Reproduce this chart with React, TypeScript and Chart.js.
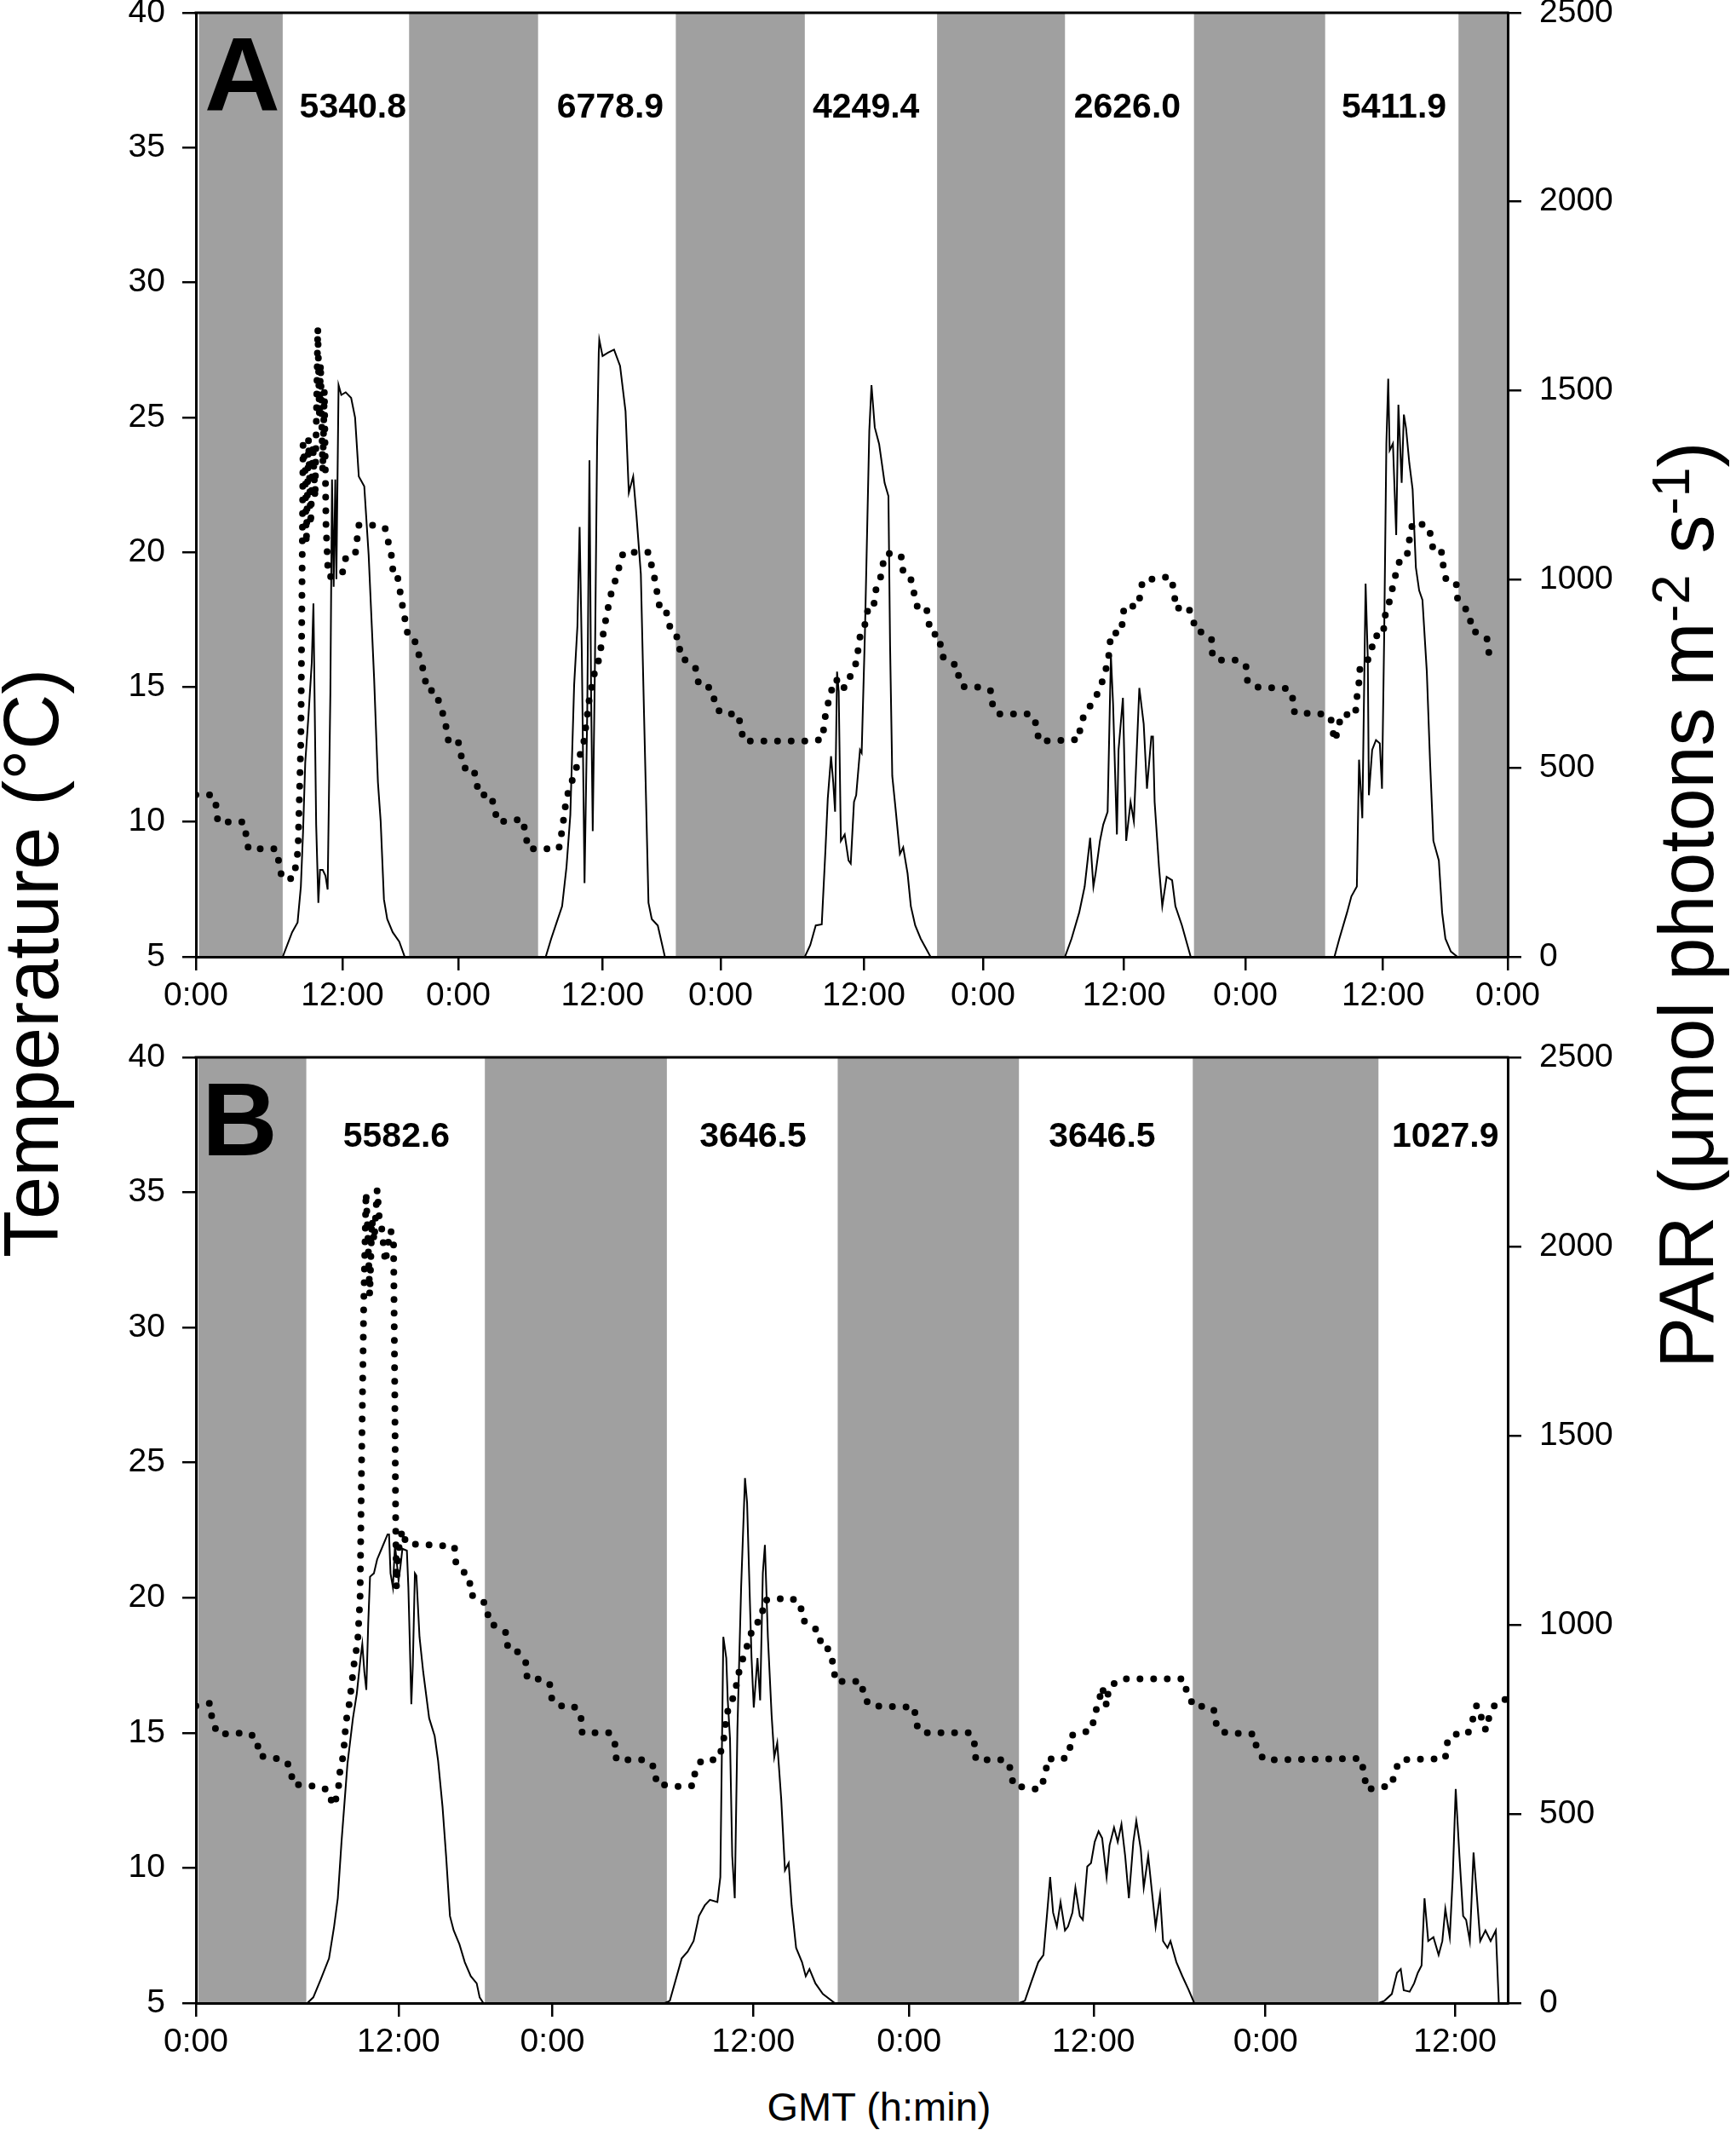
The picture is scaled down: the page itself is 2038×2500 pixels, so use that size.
import { useEffect, useRef } from "react"
import { Chart, registerables } from "chart.js"

Chart.register(...registerables)

const FONT = "'Liberation Sans', Arial, Helvetica, sans-serif"

// ---------- Panel A (5 days) ----------
const tempHoursA = [
  0, 1.5, 1.85, 2, 4.35, 4.6, 4.8, 7.3, 7.6, 7.87, 8.9, 9.2, 9.34,
  9.6, 9.8, 10, 10.1, 10.3, 10.5, 10.7, 10.9, 11.15, 11.3, 11.4, 11.6, 11.75, 11.9, 12.1,
  12.9, 13.5, 13.75, 14.6, 14.9, 16.3, 17.3, 17.9, 18.05, 18.4, 18.9, 19.4, 19.96, 20.5,
  20.9, 21.1, 21.9, 22.6, 22.85, 23.1, 23.96, 24.5, 25.4, 25.9, 27, 27.6, 29.9, 30.4,
  33.2, 33.5, 33.9, 34.8, 35.5, 36, 36.5, 36.85, 37.4, 37.9, 38.4, 39.1, 41.4, 42, 42.4,
  42.9, 43.5, 44.2, 44.3, 45, 45.7, 46, 46.6, 47.3, 47.5, 48.2, 49.6, 50.1, 55.8, 57.3,
  57.6, 57.95, 58.3, 58.6, 58.8, 59.5, 59.9, 60.4, 60.8, 61.3, 61.5, 62, 62.2, 62.65, 63,
  63.9, 64.6, 64.7, 65.4, 65.96, 66.8, 67.2, 68.05, 68.15, 68.9, 69.7, 69.8, 70.3, 71.9,
  72.75, 72.9, 73.4, 76.4, 76.9, 77.1, 80.8, 80.9, 81.3, 82.3, 83, 83.4, 83.55, 83.7, 84.6,
  84.8, 84.9, 86.2, 86.6, 89.1, 89.5, 89.6, 90.7, 91.2, 91.4, 92.3, 92.9, 93, 93.7, 95.3,
  96.05, 96.2, 96.9, 99.9, 100.3, 100.5, 103, 103.8, 104, 104.2, 104.5, 104.8, 106.05,
  106.2, 106.4, 106.5, 107.2, 107.5, 107.8, 108.6, 108.75, 109.2, 109.7, 110.2, 110.8, 111,
  111.3, 112.6, 113, 113.2, 114, 114.1, 114.4, 115.3, 115.4, 115.9, 116.5, 116.7, 117.3,
  118.1, 118.3, 119.2,
]
const tempValuesA = [
  11, 11, 10.6, 10, 10, 9.5, 9, 9, 8.5, 7.9, 7.9, 8.5, 9,
  13, 24, 23, 20.3, 24.2, 21, 24, 22, 28.3, 25, 27, 23, 26, 21, 19.1,
  19.1, 19.3, 19.9, 20, 21, 21, 20.9, 19.85, 19.2, 19.2, 18, 16.9, 16.8, 16.05,
  15.5, 14.9, 14.85, 14, 13.6, 13, 13.05, 12, 12, 11, 11, 10, 10.1, 9,
  9, 9.7, 10.9, 12, 13, 14.6, 15.6, 16, 17.3, 18.35, 19, 20, 20, 18.95, 18,
  18, 17, 16.8, 16.1, 15.95, 15.7, 15.1, 15.1, 14.85, 14.25, 14, 14, 13, 13, 13.05,
  14, 14.6, 15.1, 15.3, 14.95, 15, 15.45, 15.9, 17, 17.4, 18, 18, 18.6, 19.1, 19.9,
  20, 19.8, 19.2, 19, 18, 18, 17, 16.9, 16.2, 15.9, 15.8, 15.2, 15, 15,
  14.85, 14.25, 14, 14, 13.6, 13, 13.05, 13.6, 14, 14.6, 15.3, 15.9, 16.3, 17, 17,
  17.5, 18, 18, 18.95, 19.1, 18.6, 17.9, 18, 17.6, 17.1, 17, 16.8, 16.1, 16, 16,
  15.8, 15.2, 15, 14.95, 14.65, 14.05, 14, 13.9, 13.35, 13, 13.5, 14, 13.95,
  14.6, 15.2, 15.8, 16, 16.3, 16.9, 16.9, 17.6, 18.2, 19.1, 19.8, 19.9, 20.45,
  21.1, 21, 20.6, 20, 20, 19.5, 18.9, 18.8, 18.3, 18, 17.75, 17.1, 17,
  16.8, 16.2, 16,
]
const parHoursA = [
  0, 7.94, 8.8, 9.3, 9.6, 9.8, 10, 10.3, 10.6, 10.75, 10.85, 11, 11.2, 11.35, 11.6, 11.85,
  12.05, 12.3, 12.45, 12.6, 12.75, 12.85, 13.05, 13.3, 13.7, 14.2, 14.56, 14.9, 15.4, 15.8,
  16.3, 16.65, 16.9, 17.2, 17.5, 18, 18.6, 19.1,
  32, 32.5, 33, 33.5, 33.9, 34.25, 34.6, 34.9, 35.1, 35.3, 35.55, 35.8, 36, 36.15, 36.3,
  36.5, 36.7, 36.85, 36.9, 37.2, 37.7, 38.25, 38.8, 39.3, 39.6, 40, 40.3, 40.7, 41, 41.4,
  41.7, 42.25, 42.9,
  55.7, 56.2, 56.7, 57.25, 57.6, 57.8, 58.1, 58.3, 58.47, 58.65, 58.8, 59, 59.35, 59.7,
  59.9, 60.2, 60.4, 60.75, 60.9, 61.2, 61.6, 61.8, 62.1, 62.5, 63, 63.35, 63.5, 63.7, 64,
  64.4, 64.7, 65.1, 65.4, 65.8, 66.3, 67.2,
  79.5, 80.1, 80.8, 81.3, 81.8, 82.1, 82.3, 82.7, 83, 83.4, 83.7, 83.9, 84.25, 84.4, 84.8,
  85.1, 85.5, 85.8, 86.3, 86.7, 87, 87.4, 87.55, 87.7, 88.1, 88.4, 88.8, 89.3, 89.6, 90.2,
  90.7, 91,
  104.15, 104.6, 105.3, 105.7, 106.2, 106.4, 106.7, 107, 107.2, 107.3, 107.6, 107.95, 108.3,
  108.5, 108.7, 108.9, 109.07, 109.2, 109.5, 109.8, 110, 110.3, 110.5, 110.7, 111, 111.3,
  111.6, 111.9, 112.2, 112.6, 112.9, 113.2, 113.7, 114, 114.3, 114.8, 115.4, 120,
]
const parValuesA = [
  0, 0, 65, 91, 186, 330, 514, 640, 780, 936, 700, 350, 143, 230, 230, 215,
  178, 700, 1264, 980, 1264, 1000, 1514, 1488, 1495, 1480, 1428, 1272, 1246, 1065,
  738, 462, 359, 152, 100, 65, 40, 0,
  0, 48, 91, 134, 238, 376, 720, 876, 1138, 807, 195, 652, 1315, 695, 333,
  772, 1358, 1600, 1634, 1591, 1600, 1608, 1565, 1445, 1229, 1272, 1169, 1014, 634, 143,
  100, 83, 0,
  0, 31, 83, 86, 290, 419, 531, 462, 384, 755, 703, 307, 324, 255,
  247, 410, 428, 548, 540, 858, 1393, 1514, 1402, 1358, 1255, 1220, 824, 479, 393,
  272, 290, 221, 134, 83, 48, 0,
  0, 48, 117, 186, 315, 186, 221, 307, 350, 384, 798, 669, 324, 548, 686,
  307, 410, 359, 712, 617, 445, 583, 583, 410, 238, 134, 212, 203, 134, 83,
  31, 0,
  0, 48, 117, 160, 186, 522, 367, 988, 790, 428, 548, 574, 565,
  445, 850, 1359, 1531, 1341, 1359, 1117, 1462, 1255, 1436, 1400, 1307, 1238,
  1031, 970, 945, 755, 514, 307, 255, 117, 48, 14, 0, 0,
]
const nightStartsA = [0.28, 19.5, 43.9, 67.8, 91.3, 115.5]
const nightEndsA = [7.94, 31.3, 55.7, 79.5, 103.3, 120]
const xTicksA = [0, 13.4, 24, 37.2, 48, 61.1, 72, 84.9, 96, 108.6, 120]
const xTickLabelsA = ["0:00", "12:00", "0:00", "12:00", "0:00", "12:00", "0:00", "12:00", "0:00", "12:00", "0:00"]
const totalHoursA = [14.36, 37.9, 61.3, 85.2, 109.6]
const totalLabelsA = ["5340.8", "6778.9", "4249.4", "2626.0", "5411.9"]

// ---------- Panel B (3.7 days) ----------
const tempHoursB = [
  0, 0.97, 1.1, 1.5, 3.53, 4.1, 4.25, 5.96, 6.4, 6.5, 8.4, 8.96, 9.2, 9.4, 9.6, 9.7, 9.93,
  10.1, 10.3, 10.44, 10.57, 10.7, 10.88,
  11.05, 11.15, 11.3, 11.45, 11.6, 11.7, 11.85, 12, 12.2, 12.35, 12.5, 12.75, 12.9, 13.1,
  13.3, 13.38, 13.45, 13.5, 13.6, 13.77, 13.9, 14.15,
  17.4, 17.5, 17.9, 18.4, 18.5, 19.1, 19.6, 19.7, 20.3, 20.9, 21, 21.65, 22.2, 22.3, 23,
  23.8, 23.96, 24.4, 25.4, 25.9, 26, 27.85, 28.2, 28.3, 30.3, 30.9, 31, 32.8, 33.5, 33.6,
  34.05, 35.1, 35.4, 35.6, 35.7, 36, 36.45, 36.6, 36.95, 37.55, 38.1, 38.2, 40, 40.7, 40.8,
  41.3, 41.95, 42.1, 42.6, 42.9, 43.05, 44.8, 44.97, 45.4, 48.35, 48.5, 48.9, 52.1, 52.4,
  52.5, 54.5, 54.9, 55, 56.8, 57.2, 57.3, 58.3, 58.8, 58.9, 59.6, 60.3, 60.5, 60.76, 61,
  61.3, 61.45, 62.3, 66.5, 66.7, 67.2, 68.05, 68.6, 68.7, 69.3, 71.25, 71.4, 71.9, 78.4,
  78.6, 78.8, 80.5, 80.7, 81.1, 84.1, 84.2, 84.6, 85.6, 85.9, 86.2, 86.45, 86.6, 86.9, 87,
  87.4, 88.1, 88.2,
]
const tempValuesB = [
  16, 16.1, 15.4, 14.95, 15, 14.8, 14.15, 14, 13.7, 13.1, 13, 12.85, 12.3, 12.5, 13, 13.6, 14.2,
  15.4, 16, 16.6, 17.2, 17.8, 18.3,
  20, 25, 31, 35, 33, 31.2, 34, 33.2, 35.1, 34, 33.7, 32.4, 33, 33.6,
  33.3, 28, 22.5, 20.4, 21.6, 22.2, 22.5, 22,
  21.9, 21.3, 21, 20.8, 20.1, 20, 19.7, 19.1, 18.9, 18.7, 18.1, 18, 17.6, 17, 17,
  16.85, 16.25, 16, 16, 15.7, 15, 15, 14.6, 14, 14, 13.7, 13.1, 13, 13.05, 13.6,
  14, 14, 14.4, 15, 15.7, 16, 16.9, 17.4, 17.95, 19, 19.2, 19.9, 20, 19.8, 19.2,
  19, 18.75, 18.15, 18.1, 17.55, 16.9, 16.9, 16.3, 16, 15.95, 15.3, 15, 15, 14.6,
  14, 14, 13.6, 13.05, 12.9, 13.45, 14.05, 14, 14.2, 14.9, 15, 15.1, 15.7, 16.1, 16.7,
  16, 16.7, 17, 17, 16.5, 15.95, 16, 15.8, 15.2, 15, 14.95, 14.4, 14, 14.05,
  13.6, 12.9, 13.05, 13.6, 14, 14.05, 14.6, 14.95, 14.95, 15.4, 16, 15.9, 15.2, 15.1, 15.5,
  16, 16.15, 16.7,
]
const parHoursB = [
  0, 7.5, 7.9, 8.4, 8.96, 9.3, 9.55, 9.8, 10.2, 10.57, 10.83, 11.08, 11.2, 11.34, 11.47,
  11.6, 11.72, 11.98, 12.2, 12.5, 12.9, 13, 13.1, 13.26, 13.4, 13.5, 13.64, 13.77, 13.9,
  14.2, 14.3, 14.4, 14.5, 14.6, 14.74, 14.84, 15.05, 15.3, 15.7, 16.07, 16.3, 16.6, 16.84,
  17.1, 17.35, 17.74, 18.1, 18.5, 18.9, 19.1, 19.35,
  31.56, 31.9, 32.3, 32.7, 33.1, 33.5, 33.86, 34.25, 34.6, 35.1, 35.3, 35.5, 35.7, 35.8,
  35.95, 36.1, 36.27, 36.45, 36.7, 36.96, 37.1, 37.4, 37.55, 37.8, 37.98, 38.16, 38.3, 38.5,
  38.75, 38.93, 39.13, 39.4, 39.65, 39.9, 40.1, 40.4, 40.8, 41.05, 41.3, 41.7, 42.2, 43,
  55.4, 55.8, 56.2, 56.7, 57.05, 57.3, 57.5, 57.7, 57.95, 58.2, 58.5, 58.7, 59, 59.2, 59.5,
  59.7, 60, 60.25, 60.5, 60.76, 61, 61.3, 61.5, 61.8, 62.05, 62.3, 62.55, 62.8, 63.1, 63.3,
  63.6, 63.8, 64.1, 64.35, 64.6, 64.9, 65.1, 65.4, 65.6, 66, 66.4, 66.8, 67.2,
  79.6, 80, 80.5, 80.85, 81.1, 81.3, 81.7, 82, 82.25, 82.5, 82.7, 82.95, 83.3, 83.65, 83.9,
  84.1, 84.4, 84.6, 84.8, 85.05, 85.3, 85.5, 85.75, 86, 86.2, 86.45, 86.8, 87.15, 87.5, 87.7,
]
const parValuesB = [
  0, 0, 15, 62, 118, 202, 277, 426, 632, 753, 818, 912, 949, 875, 828,
  1005, 1127, 1136, 1173, 1201, 1239, 1239, 1136, 1099, 1211, 1173, 1117, 1155, 1201,
  1196, 1099, 949, 790, 893, 1136, 1130, 968, 875, 753, 706, 641, 519, 389,
  230, 192, 155, 108, 71, 52, 15, 0,
  0, 6, 62, 118, 136, 164, 230, 258, 273, 267, 333, 968, 912, 800,
  700, 389, 277, 725, 1099, 1388, 1323, 912, 781, 912, 800, 1136, 1211, 968,
  762, 650, 688, 538, 351, 370, 258, 146, 108, 71, 90, 52, 24, 0,
  0, 6, 52, 108, 127, 239, 333, 239, 202, 267, 192, 202, 239, 305, 230,
  220, 361, 370, 426, 454, 436, 333, 417, 464, 426, 473, 389, 277, 426, 482,
  407, 305, 389, 295, 202, 286, 164, 146, 164, 108, 71, 37, 0,
  0, 6, 24, 80, 90, 34, 30, 52, 80, 99, 277, 164, 174, 127, 164,
  249, 174, 333, 566, 389, 230, 220, 164, 398, 295, 164, 192, 164, 192, 0,
]
const nightStartsB = [0.15, 19.45, 43.2, 67.1]
const nightEndsB = [7.43, 31.7, 55.4, 79.6]
const xTicksB = [0, 13.64, 24, 37.52, 48, 60.42, 72, 84.75]
const xTickLabelsB = ["0:00", "12:00", "0:00", "12:00", "0:00", "12:00", "0:00", "12:00"]
const totalHoursB = [13.5, 37.5, 61.0, 84.1]
const totalLabelsB = ["5582.6", "3646.5", "3646.5", "1027.9"]

const tempTicks = [5, 10, 15, 20, 25, 30, 35, 40]
const parTicks = [0, 500, 1000, 1500, 2000, 2500]

interface PanelProps {
  letter: string
  letterDx: number
  top: number
  height: number
  padTop: number
  xAxisHeight: number
  xMax: number
  tempHours: number[]
  tempValues: number[]
  parHours: number[]
  parValues: number[]
  nightStarts: number[]
  nightEnds: number[]
  xTicks: number[]
  xTickLabels: string[]
  totalHours: number[]
  totalLabels: string[]
  totalY: number
}

function Panel(props: PanelProps) {
  const chartRef = useRef<HTMLCanvasElement>(null)
  const chartInstance = useRef<Chart | null>(null)

  useEffect(() => {
    if (!chartRef.current) return
    if (chartInstance.current) chartInstance.current.destroy()
    const ctx = chartRef.current.getContext("2d")
    if (!ctx) return

    const decor = {
      id: "decor",
      beforeDraw(chart: any) {
        const { ctx, chartArea, scales } = chart
        ctx.save()
        ctx.fillStyle = "#a0a0a0"
        props.nightStarts.forEach((s, i) => {
          const x0 = scales.x.getPixelForValue(s)
          const x1 = scales.x.getPixelForValue(props.nightEnds[i])
          ctx.fillRect(x0, chartArea.top, x1 - x0, chartArea.bottom - chartArea.top)
        })
        ctx.restore()
      },
      afterDraw(chart: any) {
        const { ctx, chartArea, scales } = chart
        ctx.save()
        // top frame line
        ctx.strokeStyle = "#000"
        ctx.lineWidth = 3
        ctx.beginPath()
        ctx.moveTo(chartArea.left - 1.5, chartArea.top)
        ctx.lineTo(chartArea.right + 1.5, chartArea.top)
        ctx.stroke()
        // panel letter
        ctx.fillStyle = "#000"
        ctx.textBaseline = "alphabetic"
        ctx.textAlign = "left"
        ctx.font = `bold 123px ${FONT}`
        ctx.fillText(props.letter, chartArea.left + props.letterDx, chartArea.top + 115)
        // daily PAR totals
        ctx.font = `bold 41px ${FONT}`
        ctx.textAlign = "center"
        const y = scales.yT.getPixelForValue(props.totalY)
        props.totalLabels.forEach((t, i) => {
          ctx.fillText(t, scales.x.getPixelForValue(props.totalHours[i]), y)
        })
        ctx.restore()
      },
    }

    const tickFont = { family: FONT, size: 39 }
    const tickGrid = { drawOnChartArea: false, drawTicks: true, tickLength: 16, color: "#000", lineWidth: 2.5 }
    const axisBorder = { display: true, color: "#000", width: 3 }

    chartInstance.current = new Chart(ctx, {
      type: "line",
      data: {
        datasets: [
          {
            label: "PAR",
            data: props.parHours.map((h, i) => ({ x: h, y: props.parValues[i] })),
            yAxisID: "yP",
            borderColor: "#000",
            borderWidth: 2,
            pointRadius: 0,
            tension: 0,
          },
          {
            label: "Temperature",
            data: props.tempHours.map((h, i) => ({ x: h, y: props.tempValues[i] })),
            yAxisID: "yT",
            borderColor: "#000",
            borderWidth: 8,
            borderDash: [0, 16],
            borderCapStyle: "round",
            pointRadius: 0,
            tension: 0,
          },
        ],
      },
      options: {
        responsive: false,
        animation: false,
        events: [],
        layout: { padding: { top: props.padTop, left: 0, right: 0, bottom: 0 } },
        plugins: { legend: { display: false }, tooltip: { enabled: false } },
        scales: {
          x: {
            type: "linear",
            min: 0,
            max: props.xMax,
            afterBuildTicks: (axis: any) => {
              axis.ticks = props.xTicks.map((v) => ({ value: v }))
            },
            afterFit: (scale: any) => {
              scale.height = props.xAxisHeight
            },
            ticks: {
              autoSkip: false,
              maxRotation: 0,
              color: "#000",
              font: tickFont,
              padding: 7,
              callback: (_v: any, i: number) => props.xTickLabels[i],
            },
            grid: tickGrid,
            border: axisBorder,
          },
          yT: {
            type: "linear",
            position: "left",
            min: 5,
            max: 40,
            afterBuildTicks: (axis: any) => {
              axis.ticks = tempTicks.map((v) => ({ value: v }))
            },
            afterFit: (scale: any) => {
              scale.width = 230
            },
            ticks: { color: "#000", font: tickFont, padding: 20, callback: (v: any) => String(v) },
            grid: tickGrid,
            border: axisBorder,
          },
          yP: {
            type: "linear",
            position: "right",
            min: 0,
            max: 2500,
            afterBuildTicks: (axis: any) => {
              axis.ticks = parTicks.map((v) => ({ value: v }))
            },
            afterFit: (scale: any) => {
              scale.width = 268
            },
            ticks: { color: "#000", font: tickFont, padding: 21, callback: (v: any) => String(v) },
            grid: tickGrid,
            border: axisBorder,
          },
        },
      },
      plugins: [decor],
    } as any)

    return () => {
      if (chartInstance.current) {
        chartInstance.current.destroy()
        chartInstance.current = null
      }
    }
  }, [props])

  return (
    <canvas
      ref={chartRef}
      width={2038}
      height={props.height}
      style={{ position: "absolute", left: 0, top: props.top, width: 2038, height: props.height }}
    />
  )
}

const panelA: PanelProps = {
  letter: "A",
  letterDx: 10,
  top: -60,
  height: 1260,
  padTop: 75,
  xAxisHeight: 77,
  xMax: 120,
  tempHours: tempHoursA,
  tempValues: tempValuesA,
  parHours: parHoursA,
  parValues: parValuesA,
  nightStarts: nightStartsA,
  nightEnds: nightEndsA,
  xTicks: xTicksA,
  xTickLabels: xTickLabelsA,
  totalHours: totalHoursA,
  totalLabels: totalLabelsA,
  totalY: 36.1,
}

const panelB: PanelProps = {
  letter: "B",
  letterDx: 7,
  top: 1190,
  height: 1250,
  padTop: 51,
  xAxisHeight: 89,
  xMax: 88.3,
  tempHours: tempHoursB,
  tempValues: tempValuesB,
  parHours: parHoursB,
  parValues: parValuesB,
  nightStarts: nightStartsB,
  nightEnds: nightEndsB,
  xTicks: xTicksB,
  xTickLabels: xTickLabelsB,
  totalHours: totalHoursB,
  totalLabels: totalLabelsB,
  totalY: 36.7,
}

const sup: React.CSSProperties = { fontSize: "0.7em", position: "relative", top: "-0.45em" }

export default function App() {
  const titleStyle: React.CSSProperties = {
    position: "absolute",
    transformOrigin: "0 0",
    transform: "rotate(-90deg)",
    whiteSpace: "nowrap",
    fontFamily: FONT,
    fontSize: 90,
    lineHeight: 1,
    color: "#000",
  }
  return (
    <div style={{ position: "absolute", left: 0, top: 0, width: 2038, height: 2500, background: "#fff", overflow: "hidden" }}>
      <Panel {...panelA} />
      <Panel {...panelB} />
      <div style={{ ...titleStyle, left: -8, top: 1476 }}>Temperature (°C)</div>
      <div style={{ ...titleStyle, left: 1935, top: 1606 }}>
        PAR (μmol photons m<span style={sup}>-2</span> s<span style={sup}>-1</span>)
      </div>
      <div
        style={{
          position: "absolute",
          left: 1032,
          top: 2449,
          transform: "translateX(-50%)",
          whiteSpace: "nowrap",
          fontFamily: FONT,
          fontSize: 47,
          lineHeight: 1,
          color: "#000",
        }}
      >
        GMT (h:min)
      </div>
    </div>
  )
}
